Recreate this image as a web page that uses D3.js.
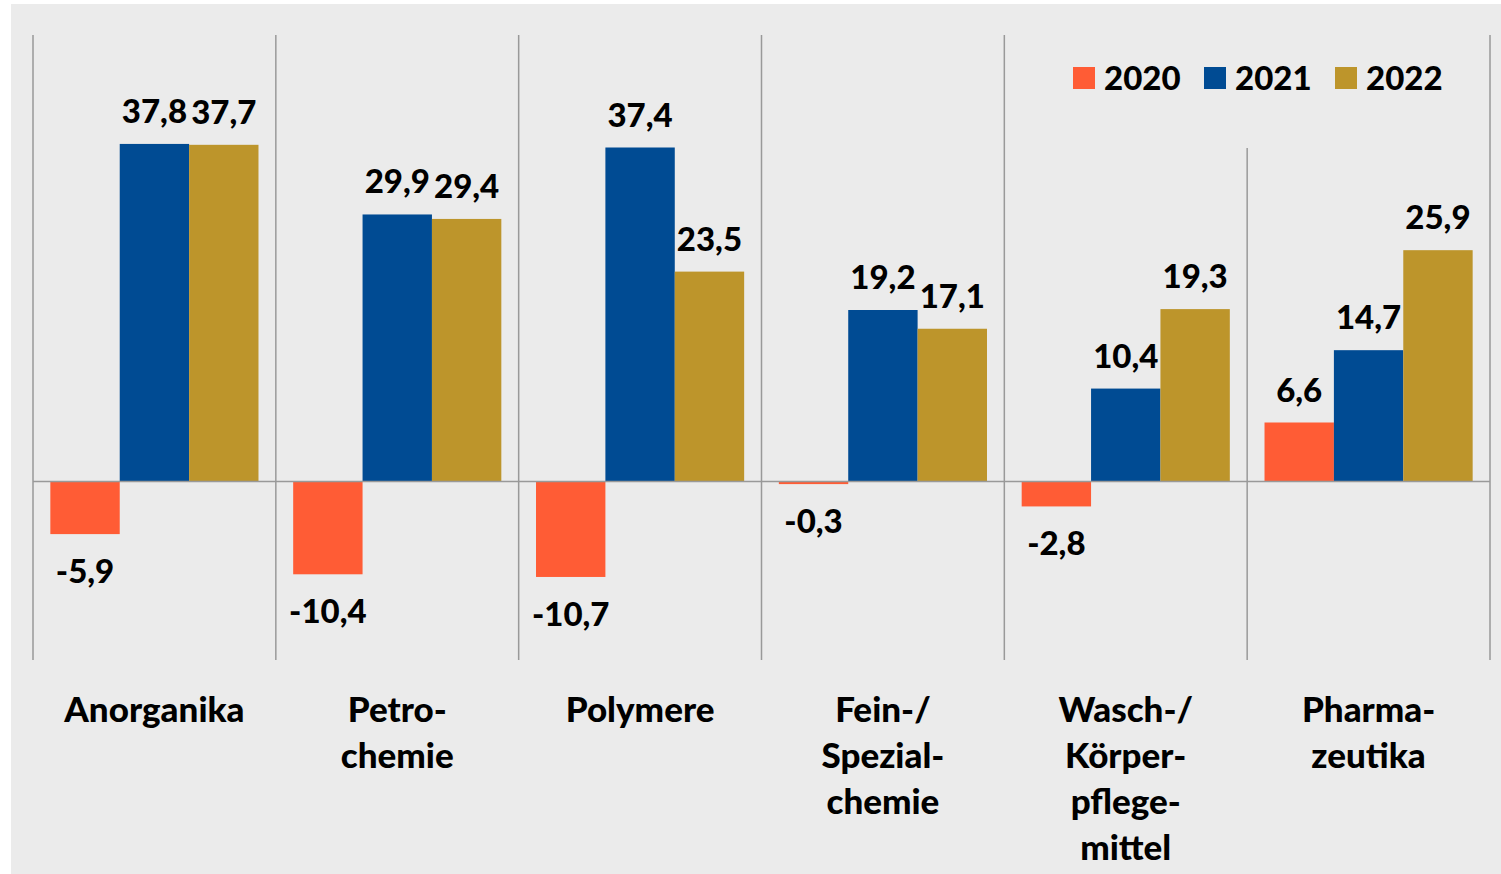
<!DOCTYPE html>
<html>
<head>
<meta charset="utf-8">
<script src="https://cdn.jsdelivr.net/npm/d3@7"></script>
<style>
  body { margin: 0; background: #fff; }
  text { font-family: Lato, "Source Sans Pro", sans-serif; font-weight: 900; fill: #000; }
</style>
</head>
<body>
<script>
const width = 1501
const height = 874

// Daten
const categories = ["Anorganika", "Petro-\nchemie", "Polymere", "Fein-/\nSpezial-\nchemie", "Wasch-/\nKörper-\npflege-\nmittel", "Pharma-\nzeutika"]
const years = ["2020", "2021", "2022"]
const values2020 = [-5.9, -10.4, -10.7, -0.3, -2.8, 6.6]
const values2021 = [37.8, 29.9, 37.4, 19.2, 10.4, 14.7]
const values2022 = [37.7, 29.4, 23.5, 17.1, 19.3, 25.9]
const colors = ["#ff5c35", "#004b93", "#bd952b"]

const series = [values2020, values2021, values2022]
const rows = categories.map((c, i) => ({cat: c, vals: years.map((y, j) => ({year: y, v: series[j][i]}))}))

const svg = d3.select('body').append('svg')
  .attr('width', width)
  .attr('height', height)

// grauer Hintergrund
svg.append('rect')
  .attr('x', 11).attr('y', 4)
  .attr('width', width - 11).attr('height', height - 4)
  .attr('fill', '#ebebeb')

const x0 = d3.scaleBand()
  .domain(categories)
  .range([33, 1490])
  .paddingInner(0)

const x1 = d3.scaleBand()
  .domain(years)
  .range([0, x0.bandwidth()])
  .paddingOuter(0.25)
  .paddingInner(0)

const y = d3.scaleLinear()
  .domain([-20, 50])
  .range([660, 35])

const fmt = v => d3.format(".1f")(v).replace(".", ",").replace("−", "-")

// Trennlinien
const seps = categories.map((c, i) => x0(c)).concat([1490])
svg.selectAll('.sep')
  .data(seps)
  .enter().append('line')
  .attr('class', 'sep')
  .attr('x1', d => d).attr('x2', d => d)
  .attr('y1', (d, i) => i == categories.length - 1 ? 148 : y(50))
  .attr('y2', y(-20))
  .attr('stroke', '#999')
  .attr('stroke-width', 1.5)

const groups = svg.selectAll('.group')
  .data(rows)
  .enter().append('g')
  .attr('class', 'group')
  .attr('transform', d => `translate(${x0(d.cat)},0)`)

groups.selectAll('rect')
  .data(d => d.vals)
  .enter().append('rect')
  .attr('x', d => x1(d.year))
  .attr('width', x1.bandwidth())
  .attr('y', d => y(Math.max(0, d.v)))
  .attr('height', d => Math.abs(y(d.v) - y(0)))
  .attr('fill', (d, i) => colors[i])

// Nulllinie
svg.append('line')
  .attr('x1', 33).attr('x2', 1490)
  .attr('y1', y(0)).attr('y2', y(0))
  .attr('stroke', '#999')
  .attr('stroke-width', 1.5)

groups.selectAll('.val')
  .data(d => d.vals)
  .enter().append('text')
  .attr('class', 'val')
  .attr('x', d => x1(d.year) + x1.bandwidth() / 2)
  .attr('y', d => d.v >= 0 ? y(d.v) - 21 : y(d.v) + 49)
  .attr('text-anchor', 'middle')
  .style('font-size', '33px')
  .text(d => fmt(d.v))

// Kategorien
const catText = svg.selectAll('.cat')
  .data(categories)
  .enter().append('text')
  .attr('class', 'cat')
  .attr('x', d => x0(d) + x0.bandwidth() / 2)
  .attr('y', 722)
  .attr('text-anchor', 'middle')
  .style('font-size', '35px')

catText.selectAll('tspan')
  .data(d => d.split("\n"))
  .enter().append('tspan')
  .attr('x', function() { return d3.select(this.parentNode).attr('x') })
  .attr('dy', (d, i) => i == 0 ? 0 : 46)
  .text(d => d)

// Legende
const legX = [1073, 1204, 1335]
const legend = svg.selectAll('.leg')
  .data(years)
  .enter().append('g')
  .attr('class', 'leg')
  .attr('transform', (d, i) => `translate(${legX[i]},67)`)

legend.append('rect')
  .attr('width', 22).attr('height', 22)
  .attr('fill', (d, i) => colors[i])

legend.append('text')
  .attr('x', 31).attr('y', 23)
  .style('font-size', '33px')
  .text(d => d)
</script>
</body>
</html>
